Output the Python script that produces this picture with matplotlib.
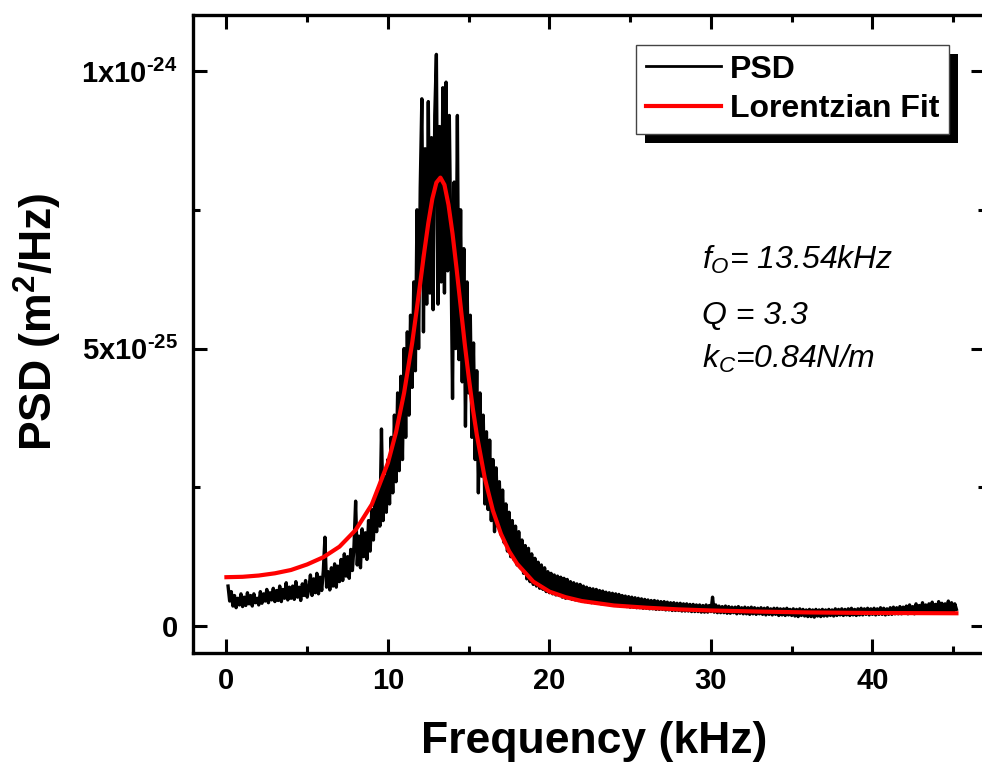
import numpy as np
import matplotlib
matplotlib.use("Agg")
import matplotlib.pyplot as plt
from matplotlib.patches import Rectangle

plt.rcParams['font.family'] = ['Liberation Sans', 'DejaVu Sans']
plt.rcParams['font.weight'] = 'bold'
plt.rcParams['mathtext.fontset'] = 'custom'
plt.rcParams['mathtext.rm'] = 'Liberation Sans:weight=bold'
plt.rcParams['mathtext.bf'] = 'Liberation Sans:weight=bold'
plt.rcParams['mathtext.it'] = 'Liberation Sans:style=italic:weight=normal'
plt.rcParams['mathtext.default'] = 'rm'

# measured PSD, units of 1e-25 m^2/Hz, bins every 0.1 kHz starting at 0.1 kHz
# (one row = one kHz)
psd_start_khz = 0.1
psd_step_khz = 0.1
psd_vals = [
    0.72, 0.45, 0.62, 0.36, 0.55, 0.33, 0.50, 0.38, 0.58, 0.35,
    0.52, 0.37, 0.60, 0.40, 0.55, 0.36, 0.58, 0.42, 0.50, 0.38,
    0.62, 0.41, 0.58, 0.45, 0.66, 0.42, 0.60, 0.47, 0.68, 0.44,
    0.64, 0.46, 0.72, 0.44, 0.66, 0.50, 0.78, 0.47, 0.70, 0.50,
    0.72, 0.48, 0.80, 0.52, 0.70, 0.46, 0.76, 0.55, 0.82, 0.52,
    0.66, 0.92, 0.55, 0.85, 0.60, 0.95, 0.58, 0.88, 0.64, 1.00,
    1.60, 0.70, 0.98, 0.65, 1.05, 0.72, 1.12, 0.70, 1.08, 0.80,
    1.20, 0.82, 1.30, 0.90, 1.25, 0.86, 1.38, 1.00, 1.45, 2.25,
    1.10, 1.62, 1.05, 1.75, 1.25, 1.68, 1.20, 1.90, 1.35, 2.10,
    1.55, 2.30, 1.70, 2.45, 1.80, 3.55, 1.90, 2.70, 2.05, 3.00,
    2.20, 3.40, 2.40, 3.80, 2.60, 4.20, 2.80, 4.50, 3.00, 5.00,
    3.40, 5.30, 3.80, 5.60, 4.30, 6.20, 4.60, 7.50, 5.00, 7.90,
    9.50, 5.30, 8.60, 5.80, 9.45, 6.00, 8.80, 5.70, 9.20, 10.30,
    5.80, 9.00, 6.20, 9.70, 6.00, 9.80, 6.40, 9.20, 6.80, 4.10,
    8.00, 5.00, 9.20, 4.80, 7.50, 4.40, 6.80, 3.60, 6.20, 4.20,
    5.60, 3.40, 5.10, 3.00, 4.60, 2.40, 4.20, 2.70, 3.80, 2.20,
    3.50, 2.10, 3.35, 1.90, 3.00, 1.70, 2.85, 1.80, 2.60, 1.65,
    2.45, 1.50, 2.20, 1.35, 2.05, 1.25, 1.90, 1.20, 1.80, 1.10,
    1.70, 1.05, 1.55, 0.95, 1.45, 0.85, 1.40, 0.80, 1.30, 0.75,
    1.22, 0.72, 1.15, 0.68, 1.10, 0.66, 1.05, 0.62, 0.98, 0.60,
    0.95, 0.58, 0.92, 0.56, 0.90, 0.55, 0.88, 0.52, 0.86, 0.50,
    0.84, 0.50, 0.80, 0.48, 0.78, 0.47, 0.76, 0.46, 0.75, 0.45,
    0.72, 0.44, 0.70, 0.43, 0.68, 0.42, 0.67, 0.42, 0.66, 0.41,
    0.64, 0.40, 0.63, 0.40, 0.61, 0.39, 0.60, 0.38, 0.59, 0.38,
    0.58, 0.37, 0.57, 0.36, 0.55, 0.36, 0.54, 0.35, 0.53, 0.34,
    0.52, 0.34, 0.51, 0.33, 0.50, 0.33, 0.49, 0.32, 0.48, 0.32,
    0.47, 0.31, 0.46, 0.31, 0.46, 0.30, 0.45, 0.30, 0.44, 0.30,
    0.44, 0.29, 0.43, 0.29, 0.42, 0.28, 0.42, 0.28, 0.41, 0.28,
    0.41, 0.27, 0.40, 0.27, 0.40, 0.27, 0.39, 0.26, 0.39, 0.26,
    0.38, 0.26, 0.38, 0.25, 0.37, 0.25, 0.38, 0.25, 0.37, 0.26,
    0.52, 0.25, 0.38, 0.24, 0.36, 0.24, 0.35, 0.24, 0.36, 0.23,
    0.35, 0.23, 0.34, 0.24, 0.34, 0.22, 0.35, 0.23, 0.33, 0.22,
    0.34, 0.22, 0.33, 0.21, 0.34, 0.22, 0.33, 0.21, 0.32, 0.22,
    0.33, 0.21, 0.32, 0.20, 0.33, 0.21, 0.31, 0.20, 0.32, 0.21,
    0.32, 0.19, 0.31, 0.20, 0.31, 0.19, 0.32, 0.20, 0.30, 0.19,
    0.31, 0.18, 0.30, 0.17, 0.31, 0.19, 0.30, 0.18, 0.29, 0.17,
    0.30, 0.17, 0.29, 0.16, 0.30, 0.18, 0.29, 0.17, 0.30, 0.18,
    0.29, 0.18, 0.30, 0.19, 0.29, 0.18, 0.31, 0.19, 0.30, 0.20,
    0.31, 0.19, 0.30, 0.20, 0.31, 0.19, 0.32, 0.20, 0.30, 0.19,
    0.31, 0.20, 0.32, 0.20, 0.31, 0.21, 0.32, 0.20, 0.31, 0.21,
    0.32, 0.20, 0.31, 0.21, 0.33, 0.21, 0.32, 0.20, 0.31, 0.21,
    0.33, 0.21, 0.34, 0.22, 0.33, 0.22, 0.35, 0.22, 0.34, 0.23,
    0.36, 0.22, 0.38, 0.23, 0.35, 0.22, 0.40, 0.23, 0.37, 0.24,
    0.42, 0.24, 0.38, 0.23, 0.40, 0.24, 0.43, 0.25, 0.39, 0.24,
    0.44, 0.25, 0.41, 0.24, 0.40, 0.25, 0.45, 0.24, 0.42, 0.26,
    0.40, 0.30,
]
psd_freq = psd_start_khz + psd_step_khz * np.arange(len(psd_vals))

# Lorentzian fit curve (1e-25 m^2/Hz)
fit_freq = [0, 1, 2, 3, 4, 5, 6, 7, 8, 9, 10, 10.5, 11, 11.5, 11.75, 12,
            12.25, 12.5, 12.75, 13, 13.25, 13.5, 13.75, 14, 14.25, 14.5,
            14.75, 15, 15.25, 15.5, 16, 16.5, 17, 17.5, 18, 19, 20, 21, 22,
            24, 26, 28, 30, 33, 36, 40, 45.2]
fit_vals = [0.88, 0.887, 0.91, 0.95, 1.01, 1.11, 1.24, 1.43, 1.73, 2.19,
            2.94, 3.49, 4.20, 5.10, 5.63, 6.18, 6.74, 7.26, 7.70, 7.99,
            8.08, 7.95, 7.59, 7.07, 6.44, 5.77, 5.10, 4.49, 3.93, 3.45,
            2.66, 2.08, 1.66, 1.35, 1.12, 0.80, 0.62, 0.52, 0.45, 0.37,
            0.33, 0.30, 0.28, 0.26, 0.245, 0.235, 0.23]

x_ticks = [0, 10, 20, 30, 40]
x_minor = [5, 15, 25, 35, 45]
y_ticks = [0, 5e-25, 1e-24]
y_ticklabels = ['0', r'5x10$^{\text{-25}}$', r'1x10$^{\text{-24}}$']
y_minor = [2.5e-25, 7.5e-25]

fig = plt.figure(figsize=(9.82, 7.67), dpi=100)
W, H = 982, 767
ax = fig.add_axes([193 / W, (H - 653) / H, (985 - 193) / W, (653 - 15) / H])

ax.plot(psd_freq, np.array(psd_vals) * 1e-25, color='black', lw=2.4,
        solid_joinstyle='round', label='PSD', zorder=2)
ax.plot(fit_freq, np.array(fit_vals) * 1e-25, color='#ff0000', lw=3.0,
        label='Lorentzian Fit', zorder=3)

ax.set_xlim(-2.07, 46.97)
ax.set_ylim(-0.0486e-24, 1.101e-24)
ax.set_xticks(x_ticks)
ax.set_xticks(x_minor, minor=True)
ax.set_yticks(y_ticks)
ax.set_yticklabels(y_ticklabels)
ax.set_yticks(y_minor, minor=True)

for sp in ax.spines.values():
    sp.set_linewidth(2.4)
ax.tick_params(which='both', direction='in', top=True, right=True, width=2.2)
ax.tick_params(which='major', length=10)
ax.tick_params(which='minor', length=5)
ax.tick_params(axis='x', pad=10, labelsize=21)
ax.tick_params(axis='y', pad=11, labelsize=21)

fig.text(594 / W, 1 - 742 / H, 'Frequency (kHz)', fontsize=32,
         fontweight='bold', ha='center', va='center')
fig.text(38 / W, 1 - 322 / H, 'PSD (m$^{2}$/Hz)', fontsize=32,
         fontweight='bold', rotation=90, ha='center', va='center')

# fit parameters
notes = [r'$\mathit{f}_{\mathit{O}}$= 13.54kHz', 'Q = 3.3',
         r'$\mathit{k}_{\mathit{C}}$=0.84N/m']
note_y = [269, 324, 368]
for txt, yy in zip(notes, note_y):
    fig.text(702 / W, 1 - yy / H, txt, fontsize=23, fontstyle='italic',
             fontweight='normal', ha='left', va='baseline')

leg = ax.legend(loc='upper left', bbox_to_anchor=(636 / W, 1 - 45 / H),
                bbox_transform=fig.transFigure,
                prop={'weight': 'bold', 'size': 23}, frameon=True,
                fancybox=False, edgecolor='#444444', framealpha=1,
                borderpad=0.3, handlelength=2.35, handletextpad=0.3,
                labelspacing=0.3, borderaxespad=0)
leg.get_frame().set_linewidth(1.0)
leg.get_lines()[0].set_linewidth(2.0)
leg.set_zorder(10)

# black drop shadow behind the legend box
fig.canvas.draw()
bb = leg.get_frame().get_window_extent()
x0, y0 = fig.transFigure.inverted().transform((bb.x0 + 9, bb.y0 - 9))
x1, y1 = fig.transFigure.inverted().transform((bb.x1 + 9, bb.y1 - 9))
ax.add_patch(Rectangle((x0, y0), x1 - x0, y1 - y0, transform=fig.transFigure,
                       facecolor='black', edgecolor='none', zorder=9,
                       clip_on=False))

fig.savefig('out.png', dpi=100)
